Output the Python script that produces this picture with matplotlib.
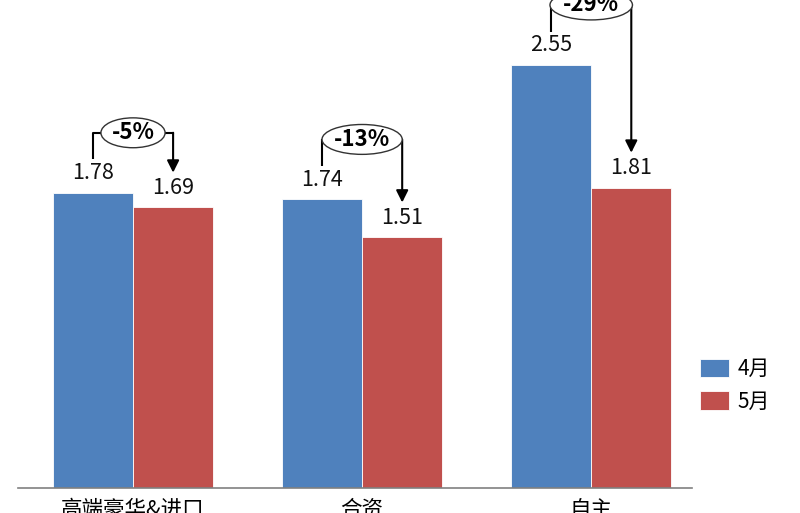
import numpy as np
import matplotlib.pyplot as plt
from matplotlib.patches import Ellipse

plt.rcParams['font.family'] = ['Noto Sans CJK SC', 'DejaVu Sans']

categories = ["高端豪华&进口", "合资", "自主"]
april = [1.78, 1.74, 2.55]
may = [1.69, 1.51, 1.81]
changes = ["-5%", "-13%", "-29%"]
series_names = ["4月", "5月"]

blue = "#4F81BD"
red = "#C0504D"

fig = plt.figure(figsize=(8, 5.13), dpi=100)
ax = fig.add_axes([18/800, 25/513, 674/800, 488/513])

x = np.arange(len(categories))
w = 0.35
b1 = ax.bar(x - w/2, april, w, color=blue, edgecolor="white", linewidth=0.6, label=series_names[0])
b2 = ax.bar(x + w/2, may, w, color=red, edgecolor="white", linewidth=0.6, label=series_names[1])

ax.set_xlim(-0.502, 2.44)
ax.set_ylim(0, 2.94)

# value labels
for i in range(len(x)):
    ax.text(x[i] - w/2, april[i] + 0.05, f"{april[i]:.2f}", ha="center", va="bottom", fontsize=15.5, color="#111111")
    ax.text(x[i] + w/2, may[i] + 0.05, f"{may[i]:.2f}", ha="center", va="bottom", fontsize=15.5, color="#111111")

# bracket + ellipse with change
ell_w = [0.28, 0.35, 0.36]
for i in range(len(x)):
    xl = x[i] - w/2
    xr = x[i] + w/2
    top = april[i] + 0.36
    ax.plot([xl, xl, x[i] - ell_w[i]/2], [april[i] + 0.2, top, top], color="black", lw=1.5,
            solid_capstyle="butt", clip_on=False)
    ax.annotate("", xy=(xr, may[i] + 0.21), xytext=(xr, top),
                arrowprops=dict(arrowstyle="-|>", color="black", lw=1.5, mutation_scale=18,
                                shrinkA=0, shrinkB=0), annotation_clip=False)
    ax.plot([x[i] + ell_w[i]/2, xr], [top, top], color="black", lw=1.5, clip_on=False)
    e = Ellipse((x[i], top), ell_w[i], 0.18, facecolor="white", edgecolor="#333333", lw=1.0,
                clip_on=False, zorder=5)
    ax.add_patch(e)
    ax.text(x[i], top, changes[i], ha="center", va="center", fontsize=16, fontweight="bold",
            zorder=6, clip_on=False)

for s in ["top", "right", "left"]:
    ax.spines[s].set_visible(False)
ax.spines["bottom"].set_color("#808080")
ax.spines["bottom"].set_linewidth(1.2)
ax.set_yticks([])
ax.set_xticks(x)
ax.set_xticklabels(categories, fontsize=15.5)
ax.tick_params(axis="x", length=0, pad=8)

fig.legend(handles=[b1, b2], labels=series_names, loc="upper left",
           bbox_to_anchor=(700/800, 1 - 358/513), bbox_transform=fig.transFigure,
           frameon=False, fontsize=15, borderpad=0, borderaxespad=0,
           handlelength=1.4, handleheight=1.0, handletextpad=0.4, labelspacing=0.5)

fig.savefig("out.png", dpi=100)
